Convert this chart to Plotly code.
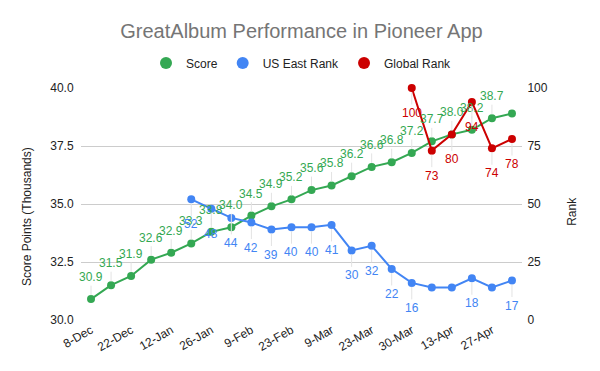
import plotly.graph_objects as go

weeks = ["8-Dec", "15-Dec", "22-Dec", "5-Jan", "12-Jan", "19-Jan", "26-Jan",
         "2-Feb", "9-Feb", "16-Feb", "23-Feb", "2-Mar", "9-Mar", "16-Mar",
         "23-Mar", "26-Mar", "30-Mar", "6-Apr", "13-Apr", "20-Apr", "27-Apr", "4-May"]
tick_weeks = weeks[::2]

score = [30.9, 31.5, 31.9, 32.6, 32.9, 33.3, 33.8, 34.0, 34.5, 34.9, 35.2,
         35.6, 35.8, 36.2, 36.6, 36.8, 37.2, 37.7, 38.0, 38.2, 38.7, 38.9]
score_labels = [f"{v:.1f}" for v in score[:-1]] + [""]

us_east = [None, None, None, None, None, 52, 48, 44, 42, 39, 40, 40, 41,
           30, 32, 22, 16, 14, 14, 18, 14, 17]
us_east_labels = ["" if (v is None or i in (17, 18, 20)) else str(v)
                  for i, v in enumerate(us_east)]

global_rank = [None] * 16 + [100, 73, 80, 94, 74, 78]
global_labels = ["" if v is None else str(v) for v in global_rank]

GREEN = "#34a853"
BLUE = "#4285f4"
RED = "#cc0000"
FONT = "Arial, Liberation Sans, sans-serif"
TXT = "#222222"

# page body has an 8px margin: figure is sized to fill the rest of the window
W, H = 592, 363
ML, MR, MT, MB = 73, 78, 80, 51

fig = go.Figure()

fig.add_trace(go.Scatter(x=weeks, y=score, mode="lines+markers", name="Score",
                         line=dict(color=GREEN, width=2), marker=dict(size=8, color=GREEN),
                         showlegend=False, cliponaxis=False))
fig.add_trace(go.Scatter(x=weeks, y=us_east, mode="lines+markers", name="US East Rank",
                         yaxis="y2", line=dict(color=BLUE, width=2),
                         marker=dict(size=8, color=BLUE), showlegend=False, cliponaxis=False))
fig.add_trace(go.Scatter(x=weeks, y=global_rank, mode="lines+markers", name="Global Rank",
                         yaxis="y2", line=dict(color=RED, width=2),
                         marker=dict(size=8, color=RED), showlegend=False, cliponaxis=False))

# legend-only entries
for nm, col in [("Score", GREEN), ("US East Rank", BLUE), ("Global Rank", RED)]:
    fig.add_trace(go.Scatter(x=[None], y=[None], mode="markers", name=nm,
                             marker=dict(size=12, color=col)))

annots = []
def add_labels(vals, labels, yref, color, ay):
    for w, v, t in zip(weeks, vals, labels):
        if v is None or t == "":
            continue
        annots.append(dict(x=w, y=v, xref="x", yref=yref, text=t, showarrow=True,
                           arrowhead=0, arrowwidth=1, arrowcolor="#e3e3e3",
                           ax=0, ay=ay, standoff=4,
                           font=dict(family=FONT, size=12, color=color)))

add_labels(score, score_labels, "y", GREEN, -22)
add_labels(us_east, us_east_labels, "y2", BLUE, 25)
add_labels(global_rank, global_labels, "y2", RED, 25)

# axis titles
annots.append(dict(text="Score Points (Thousands)", xref="paper", yref="paper",
                   x=-0.1224, y=0.444, xanchor="center", yanchor="middle",
                   textangle=-90, showarrow=False,
                   font=dict(family=FONT, size=12, color=TXT)))
annots.append(dict(text="Rank", xref="paper", yref="paper",
                   x=1.113, y=0.47, xanchor="center", yanchor="middle",
                   textangle=-90, showarrow=False,
                   font=dict(family=FONT, size=12, color=TXT)))

fig.update_layout(
    width=W, height=H,
    margin=dict(l=ML, r=MR, t=MT, b=MB, autoexpand=False),
    paper_bgcolor="white", plot_bgcolor="white",
    font=dict(family=FONT, size=12, color=TXT),
    title=dict(text="GreatAlbum Performance in Pioneer App", xref="paper", x=0.5,
               xanchor="center", y=1 - 23 / H, yanchor="middle",
               font=dict(family=FONT, size=20, color="#757575")),
    legend=dict(orientation="h", x=0.5, xanchor="center", y=1.108, yanchor="middle",
                font=dict(family=FONT, size=12, color=TXT), itemwidth=30),
    xaxis=dict(type="category", tickmode="array", tickvals=tick_weeks, ticktext=tick_weeks,
               tickangle=-30, showgrid=False, showline=False, zeroline=False,
               automargin=False,
               tickfont=dict(family=FONT, size=12, color=TXT),
               range=[-0.5, len(weeks) - 0.5]),
    yaxis=dict(range=[30, 40], dtick=2.5, tick0=30, tickformat=".1f",
               gridcolor="#cccccc", zeroline=False, showline=False, automargin=False,
               ticks="outside", ticklen=4, tickcolor="rgba(0,0,0,0)",
               tickfont=dict(family=FONT, size=12, color=TXT)),
    yaxis2=dict(range=[0, 100], dtick=25, tick0=0, overlaying="y", side="right",
                showgrid=False, zeroline=False, showline=False, automargin=False,
                ticks="outside", ticklen=2, tickcolor="rgba(0,0,0,0)",
                tickfont=dict(family=FONT, size=12, color=TXT)),
    annotations=annots,
)

fig.write_html("out.html")
